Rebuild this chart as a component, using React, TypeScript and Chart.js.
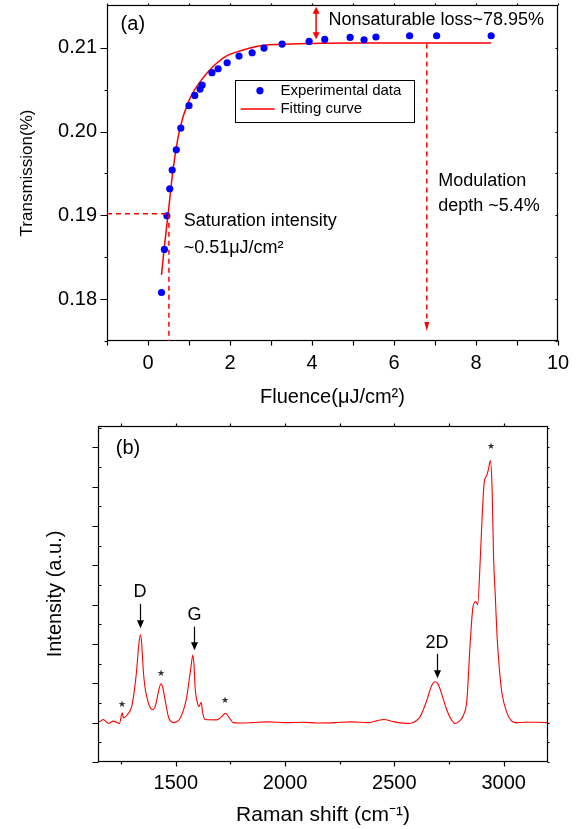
import React, { useEffect, useRef } from 'react';
import { Chart, registerables } from 'chart.js';

Chart.register(...registerables);
Chart.defaults.font.family = '"Liberation Sans", Arial, Helvetica, sans-serif';
Chart.defaults.color = '#000';

// ---------- Panel (a): saturable absorption ----------
const FLUENCE = [0.33, 0.40, 0.46, 0.53, 0.59, 0.69, 0.80, 1.00, 1.14, 1.27, 1.32, 1.56, 1.71, 1.93, 2.22, 2.54, 2.83, 3.27, 3.93, 4.31, 4.93, 5.27, 5.56, 6.38, 7.04, 8.37];
const TRANSMISSION = [0.18079, 0.18593, 0.18994, 0.19317, 0.1954, 0.19782, 0.20041, 0.20308, 0.20431, 0.20507, 0.20555, 0.20702, 0.20749, 0.20821, 0.20901, 0.2094, 0.20996, 0.21044, 0.21075, 0.21099, 0.21123, 0.21095, 0.21128, 0.21143, 0.21143, 0.21143];
const FIT_X = [0.33, 0.40, 0.49, 0.61, 0.77, 1.00, 1.34, 1.83, 2.30, 2.65, 3.20, 4.00, 5.00, 6.00, 7.00, 8.37];
const FIT_Y = [0.1829, 0.1863, 0.1901, 0.1954, 0.2002, 0.2037, 0.20638, 0.20877, 0.2097, 0.21016, 0.2104, 0.21052, 0.21056, 0.21056, 0.21056, 0.21056];
const X_TICKS_A = [-1, 0, 1, 2, 3, 4, 5, 6, 7, 8, 9, 10];
const Y_TICKS_A = [0.175, 0.18, 0.185, 0.19, 0.195, 0.2, 0.205, 0.21];

// ---------- Panel (b): Raman spectrum ----------
const RAMAN_SHIFT = [1145, 1156, 1168, 1191, 1214, 1242, 1255, 1260, 1268, 1278, 1298, 1310, 1321, 1330, 1338, 1344, 1351, 1359, 1367, 1379, 1394, 1405, 1413, 1423, 1432, 1440, 1451, 1466, 1478, 1489, 1512, 1535, 1550, 1557, 1569, 1578, 1584, 1588, 1599, 1606, 1616, 1623, 1634, 1687, 1710, 1727, 1745, 1763, 1794, 1850, 1920, 2000, 2080, 2150, 2230, 2300, 2380, 2450, 2500, 2572, 2600, 2618, 2634, 2649, 2672, 2687, 2700, 2710, 2725, 2740, 2760, 2779, 2800, 2817, 2832, 2847, 2860, 2873, 2881, 2893, 2901, 2911, 2923, 2931, 2939, 2947, 2954, 2962, 2970, 2980, 2992, 3015, 3035, 3053, 3100, 3150, 3200];
const RAMAN_INTENSITY = [0.02, 0.04, 0.08, -0.02, 0.04, -0.02, 0.25, 0.12, 0.14, 0.2, 0.41, 0.8, 1.34, 1.95, 2.23, 2.0, 1.34, 0.9, 0.66, 0.43, 0.33, 0.4, 0.58, 0.85, 0.99, 0.9, 0.58, 0.15, 0.03, 0.0, 0.05, 0.32, 0.65, 0.92, 1.4, 1.72, 1.4, 0.92, 0.5, 0.41, 0.52, 0.25, 0.08, 0.07, 0.15, 0.24, 0.12, 0.0, -0.01, 0.0, 0.02, 0.0, 0.01, -0.01, 0.0, 0.02, 0.0, 0.08, 0.02, -0.02, 0.05, 0.15, 0.35, 0.58, 0.96, 1.04, 0.98, 0.84, 0.58, 0.32, 0.08, -0.02, 0.05, 0.2, 0.58, 2.03, 2.95, 3.08, 3.0, 4.14, 5.15, 6.09, 6.29, 6.45, 6.66, 6.0, 4.2, 3.2, 2.19, 1.4, 0.76, 0.25, 0.05, 0.0, 0.01, 0.01, 0.0];
const X_TICKS_B = [1250, 1500, 1750, 2000, 2250, 2500, 2750, 3000];
const Y_TICKS_B = [-1, -0.5, 0, 0.5, 1, 1.5, 2, 2.5, 3, 3.5, 4, 4.5, 5, 5.5, 6, 6.5, 7, 7.5];

const FONT = '"Liberation Sans", Arial, Helvetica, sans-serif';

function text(ctx: CanvasRenderingContext2D, s: string, x: number, y: number, size: number, align: CanvasTextAlign = 'left', color = '#000') {
  ctx.font = `${size}px ${FONT}`;
  ctx.fillStyle = color;
  ctx.textAlign = align;
  ctx.textBaseline = 'middle';
  ctx.fillText(s, x, y);
}

function arrowHead(ctx: CanvasRenderingContext2D, x: number, y: number, dir: number, len: number, hw: number, color: string) {
  ctx.beginPath();
  ctx.moveTo(x, y);
  ctx.lineTo(x - hw, y - dir * len);
  ctx.lineTo(x + hw, y - dir * len);
  ctx.closePath();
  ctx.fillStyle = color;
  ctx.fill();
}

type TickSet = { v: number; len: number }[];

function frameAndTicks(chart: any, xt: TickSet, yt: TickSet, mirrorX: number, mirrorY: number) {
  const { ctx, chartArea: a, scales } = chart;
  const L = Math.round(a.left) + 0.5, R = Math.round(a.right) - 0.5;
  const T = Math.round(a.top) + 0.5, B = Math.round(a.bottom) - 0.5;
  ctx.save();
  ctx.strokeStyle = '#000';
  ctx.lineWidth = 1.2;
  ctx.strokeRect(L, T, R - L, B - T);
  ctx.beginPath();
  for (const t of xt) {
    const p = Math.round(scales.x.getPixelForValue(t.v)) + 0.5;
    ctx.moveTo(p, B); ctx.lineTo(p, B + t.len);
    ctx.moveTo(p, T); ctx.lineTo(p, T + mirrorX);
  }
  for (const t of yt) {
    const p = Math.round(scales.y.getPixelForValue(t.v)) + 0.5;
    ctx.moveTo(L, p); ctx.lineTo(L - t.len, p);
    ctx.moveTo(R, p); ctx.lineTo(R - mirrorY, p);
  }
  ctx.stroke();
  ctx.restore();
}

const decorA = {
  id: 'decorA',
  afterDraw(chart: any) {
    const ctx: CanvasRenderingContext2D = chart.ctx;
    const X = (v: number) => chart.scales.x.getPixelForValue(v);
    const Y = (v: number) => chart.scales.y.getPixelForValue(v);
    frameAndTicks(
      chart,
      X_TICKS_A.map((v) => ({ v, len: 5 })),
      Y_TICKS_A.map((v) => ({ v, len: Math.abs(v * 100 - Math.round(v * 100)) < 1e-6 ? 7 : 3 })),
      -2, 2
    );
    const red = '#ff0000';
    ctx.save();
    ctx.strokeStyle = red;
    ctx.lineWidth = 1.5;
    ctx.setLineDash([5, 4]);
    // saturation intensity guides
    ctx.beginPath();
    ctx.moveTo(X(-1), Y(0.1902)); ctx.lineTo(X(0.46), Y(0.1902));
    ctx.moveTo(X(0.51), Y(0.1902)); ctx.lineTo(X(0.51), Y(0.175));
    // modulation depth
    ctx.moveTo(X(6.8), Y(0.2105)); ctx.lineTo(X(6.8), Y(0.1762) - 8);
    ctx.stroke();
    ctx.setLineDash([]);
    arrowHead(ctx, X(6.8), Y(0.1762), 1, 9, 2.5, red);
    // non-saturable loss double arrow
    ctx.beginPath();
    ctx.moveTo(X(4.1), Y(0.2149) + 5); ctx.lineTo(X(4.1), Y(0.2110) - 5);
    ctx.stroke();
    arrowHead(ctx, X(4.1), Y(0.2149), -1, 7, 3.5, red);
    arrowHead(ctx, X(4.1), Y(0.2110), 1, 7, 3.5, red);

    // texts
    text(ctx, '(a)', X(-0.37), Y(0.21275), 20, 'center');
    text(ctx, 'Nonsaturable loss~78.95%', X(4.4), Y(0.21334), 18);
    text(ctx, 'Modulation', X(7.08), Y(0.19404), 18);
    text(ctx, 'depth ~5.4%', X(7.08), Y(0.19114), 18);
    text(ctx, 'Saturation intensity', X(0.87), Y(0.18926), 18);
    text(ctx, '~0.51μJ/cm²', X(0.87), Y(0.18613), 18);

    // legend
    const bx1 = X(2.13), bx2 = X(6.49), by1 = Y(0.20618), by2 = Y(0.2012);
    ctx.fillStyle = '#fff';
    ctx.fillRect(bx1, by1, bx2 - bx1, by2 - by1);
    ctx.strokeStyle = '#000';
    ctx.lineWidth = 1;
    ctx.strokeRect(Math.round(bx1) + 0.5, Math.round(by1) + 0.5, Math.round(bx2 - bx1), Math.round(by2 - by1));
    const ds0 = chart.data.datasets[0], ds1 = chart.data.datasets[1];
    ctx.beginPath();
    ctx.arc(X(2.73), Y(0.20487), ds0.pointRadius, 0, Math.PI * 2);
    ctx.fillStyle = ds0.backgroundColor;
    ctx.fill();
    text(ctx, ds0.label, X(3.23), Y(0.20487), 15);
    ctx.beginPath();
    ctx.strokeStyle = ds1.borderColor;
    ctx.lineWidth = ds1.borderWidth;
    ctx.moveTo(X(2.26), Y(0.20268)); ctx.lineTo(X(3.09), Y(0.20268));
    ctx.stroke();
    text(ctx, ds1.label, X(3.23), Y(0.20268), 15);
    ctx.restore();
  },
};

const decorB = {
  id: 'decorB',
  afterDraw(chart: any) {
    const ctx: CanvasRenderingContext2D = chart.ctx;
    const X = (v: number) => chart.scales.x.getPixelForValue(v);
    const Y = (v: number) => chart.scales.y.getPixelForValue(v);
    frameAndTicks(
      chart,
      X_TICKS_B.map((v) => ({ v, len: v % 500 === 0 ? 5 : 3 })),
      Y_TICKS_B.map((v) => ({ v, len: Number.isInteger(v) ? 6 : -3 })),
      -3, -2
    );
    ctx.save();
    text(ctx, '(b)', X(1281), Y(6.98), 20, 'center');
    const stars: [number, number][] = [[1254, 0.46], [1432, 1.24], [1727, 0.56], [2942, 7.03]];
    for (const [sx, sy] of stars) text(ctx, '★', X(sx), Y(sy), 9, 'center', '#333');
    const labels: [string, number, number, number, number][] = [
      ['D', 1336, 3.33, 3.02, 2.40],
      ['G', 1585, 2.74, 2.44, 1.84],
      ['2D', 2695, 2.02, 1.75, 1.13],
    ];
    for (const [s, lx, ly, a1, a2] of labels) {
      text(ctx, s, X(lx), Y(ly), 18, 'center');
      const px = Math.round(X(lx)) + 0.5;
      ctx.beginPath();
      ctx.strokeStyle = '#000';
      ctx.lineWidth = 1.2;
      ctx.moveTo(px, Y(a1)); ctx.lineTo(px, Y(a2) - 6);
      ctx.stroke();
      arrowHead(ctx, px, Y(a2), 1, 8, 3.5, '#000');
    }
    ctx.restore();
  },
};

const noPadX = (h: number) => (s: any) => { s.height = h; s.paddingLeft = 0; s.paddingRight = 0; s.paddingTop = 0; s.paddingBottom = 0; };
const noPadY = (w: number) => (s: any) => { s.width = w; s.paddingLeft = 0; s.paddingRight = 0; s.paddingTop = 0; s.paddingBottom = 0; };

function makeA(canvas: HTMLCanvasElement) {
  return new Chart(canvas, {
    type: 'line',
    data: {
      datasets: [
        {
          label: 'Experimental data',
          data: FLUENCE.map((x, i) => ({ x, y: TRANSMISSION[i] })),
          showLine: false,
          pointRadius: 3.6,
          pointBackgroundColor: '#0000ff',
          backgroundColor: '#0000ff',
          pointBorderWidth: 0,
          borderColor: '#0000ff',
        },
        {
          label: 'Fitting curve',
          data: FIT_X.map((x, i) => ({ x, y: FIT_Y[i] })),
          pointRadius: 0,
          borderColor: '#ff0000',
          borderWidth: 1.5,
          cubicInterpolationMode: 'monotone',
        },
      ],
    } as any,
    options: {
      animation: false,
      responsive: true,
      maintainAspectRatio: false,
      layout: { padding: { top: 5, right: 21, left: 0, bottom: 0 } },
      plugins: { legend: { display: false }, tooltip: { enabled: false } },
      scales: {
        x: {
          type: 'linear',
          min: -1,
          max: 10,
          afterBuildTicks: (s: any) => { s.ticks = X_TICKS_A.map((v) => ({ value: v })); },
          afterFit: noPadX(74),
          grid: { display: false, drawTicks: false },
          border: { display: false },
          ticks: {
            padding: 10,
            color: '#000',
            font: { size: 20 },
            autoSkip: false,
            maxRotation: 0,
            callback: (v: any) => (Number(v) % 2 === 0 ? String(v) : ''),
          },
          title: { display: true, text: 'Fluence(μJ/cm²)', color: '#000', font: { size: 20 }, padding: { top: 0, bottom: 6 } },
        },
        y: {
          type: 'linear',
          min: 0.175,
          max: 0.2151,
          afterBuildTicks: (s: any) => { s.ticks = Y_TICKS_A.map((v) => ({ value: v })); },
          afterFit: noPadY(107),
          grid: { display: false, drawTicks: false },
          border: { display: false },
          ticks: {
            padding: 10,
            color: '#000',
            font: { size: 20 },
            autoSkip: false,
            callback: (v: any) => (Math.abs(Number(v) * 100 - Math.round(Number(v) * 100)) < 1e-6 ? Number(v).toFixed(2) : ''),
          },
          title: { display: true, text: 'Transmission(%)', color: '#000', font: { size: 17 }, padding: { top: 17, bottom: 0 } },
        },
      },
    } as any,
    plugins: [decorA],
  });
}

function makeB(canvas: HTMLCanvasElement) {
  return new Chart(canvas, {
    type: 'line',
    data: {
      datasets: [
        {
          label: 'Raman',
          data: RAMAN_SHIFT.map((x, i) => ({ x, y: RAMAN_INTENSITY[i] })),
          pointRadius: 0,
          borderColor: '#ff0000',
          borderWidth: 1.1,
          cubicInterpolationMode: 'monotone',
        },
      ],
    } as any,
    options: {
      animation: false,
      responsive: true,
      maintainAspectRatio: false,
      layout: { padding: { top: 11, right: 31, left: 0, bottom: 0 } },
      plugins: { legend: { display: false }, tooltip: { enabled: false } },
      scales: {
        x: {
          type: 'linear',
          min: 1144,
          max: 3203,
          afterBuildTicks: (s: any) => { s.ticks = X_TICKS_B.map((v) => ({ value: v })); },
          afterFit: noPadX(67),
          grid: { display: false, drawTicks: false },
          border: { display: false },
          ticks: {
            padding: 9,
            color: '#000',
            font: { size: 20 },
            autoSkip: false,
            maxRotation: 0,
            callback: (v: any) => (Number(v) % 500 === 0 ? String(v) : ''),
          },
          title: { display: true, text: 'Raman shift (cm⁻¹)', color: '#000', font: { size: 21 }, padding: { top: 0, bottom: 1 } },
        },
        y: {
          type: 'linear',
          min: -1,
          max: 7.54,
          afterBuildTicks: (s: any) => { s.ticks = Y_TICKS_B.map((v) => ({ value: v })); },
          afterFit: noPadY(98),
          grid: { display: false, drawTicks: false },
          border: { display: false },
          ticks: { display: true, callback: () => '' },
          title: { display: true, text: 'Intensity (a.u.)', color: '#000', font: { size: 20 }, padding: { top: 43, bottom: 0 } },
        },
      },
    } as any,
    plugins: [decorB],
  });
}

export default function App() {
  const refA = useRef<HTMLCanvasElement>(null);
  const refB = useRef<HTMLCanvasElement>(null);
  useEffect(() => {
    const a = makeA(refA.current!);
    const b = makeB(refB.current!);
    return () => { a.destroy(); b.destroy(); };
  }, []);
  return (
    <div style={{ position: 'absolute', left: 0, top: 0, width: 579, height: 829, background: '#fff' }}>
      <div style={{ position: 'absolute', left: 0, top: 0, width: 579, height: 415 }}>
        <canvas ref={refA} />
      </div>
      <div style={{ position: 'absolute', left: 0, top: 415, width: 579, height: 414 }}>
        <canvas ref={refB} />
      </div>
    </div>
  );
}
